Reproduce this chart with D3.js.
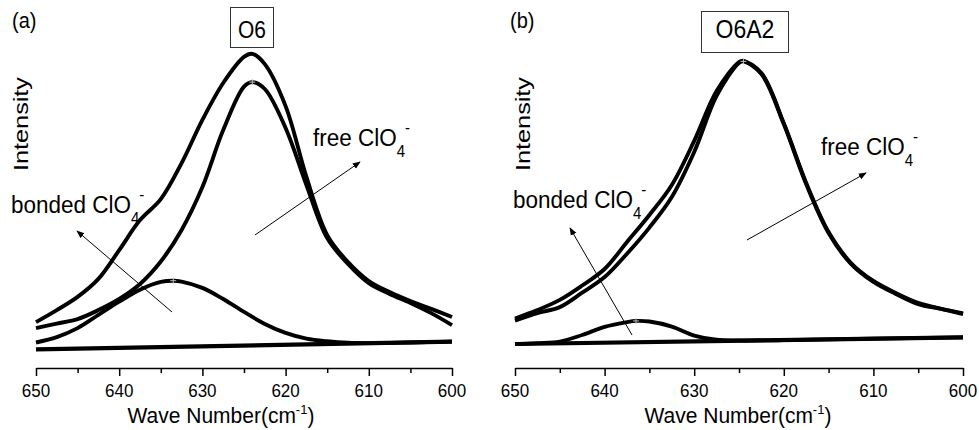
<!DOCTYPE html>
<html>
<head>
<meta charset="utf-8">
<script src="https://cdn.jsdelivr.net/npm/d3@7"></script>
<style>
  body { margin: 0; background: #fff; }
  text { font-family: Arial, "Liberation Sans", sans-serif; fill: #000; }
</style>
</head>
<body>
<script>
// ---- data (intensity in arbitrary units) ----
// panel (a) O6
var wavesA = [650, 647.5, 645, 642.5, 640, 637.5, 635, 632.5, 630, 627.5, 625, 624, 622.5, 620, 617.5, 615, 612.5, 610, 607.5, 605, 602.5, 600];
var envA = [9.3, 13.3, 17.7, 23.7, 33.3, 43.3, 50.3, 62.3, 76.7, 89.0, 97.7, 98.7, 95.3, 81.3, 57.7, 38.3, 29.3, 23.0, 19.3, 16.3, 13.7, 11.0];
var freeA = [7.3, 8.8, 10.3, 13.3, 17.0, 22.0, 29.5, 40.0, 54.3, 73.3, 87.8, 89.3, 87.0, 74.0, 55.0, 37.3, 28.7, 22.3, 18.7, 15.7, 12.3, 8.3];
var bondWavesA = [650, 647.5, 645, 642.5, 640, 637.5, 635, 633.5, 632.5, 630, 627.5, 625, 622.5, 620, 617.5, 615, 612.5, 610, 605, 600];
var bondA = [2.5, 4.3, 7.3, 11.7, 16.1, 20.1, 22.7, 23.1, 22.8, 20.7, 17.0, 12.7, 8.7, 5.7, 3.8, 2.9, 2.4, 2.3, 2.5, 2.8];
var baseWaves = [650, 600];
var baseA = [0.2, 2.8];

// panel (b) O6A2
var wavesB = [650, 647.5, 645, 642.5, 640, 637.5, 635, 632.5, 630, 627.5, 625, 624.5, 622.5, 620, 617.5, 615, 612.5, 610, 607.5, 605, 602.5, 600];
var envB = [10.5, 13.3, 16.7, 21.5, 27.0, 36.0, 45.0, 55.0, 69.7, 86.3, 96.0, 96.4, 92.3, 75.6, 55.7, 39.3, 29.0, 23.0, 19.0, 15.7, 13.8, 12.2];
var freeB = [9.8, 12.3, 14.3, 19.1, 24.3, 32.1, 40.8, 51.0, 66.0, 84.7, 95.7, 96.2, 92.0, 75.3, 55.3, 39.0, 28.7, 22.7, 18.7, 15.3, 13.7, 12.0];
var bondWavesB = [650, 647.5, 645, 642.5, 640, 637.5, 636.5, 635, 632.5, 630, 627.5, 625, 620, 610, 600];
var bondB = [2.0, 2.3, 2.8, 5.0, 7.7, 9.3, 9.7, 9.5, 7.8, 4.8, 3.4, 3.2, 3.3, 3.8, 4.2];
var baseB = [2.0, 4.2];

var majorTicks = [650, 640, 630, 620, 610, 600];
var minorTicks = [645, 635, 625, 615, 605];

var W = 979, H = 430;
// the original figure is slightly stretched vertically
var SY = 1.1;

var svg = d3.select('body').append('svg')
  .attr('width', W)
  .attr('height', H);

svg.append('defs').append('marker')
  .attr('id', 'arrow')
  .attr('viewBox', '0 0 10 10')
  .attr('refX', 9)
  .attr('refY', 5)
  .attr('markerWidth', 8)
  .attr('markerHeight', 8)
  .attr('markerUnits', 'userSpaceOnUse')
  .attr('orient', 'auto')
  .append('path')
  .attr('d', 'M0,1L10,5L0,9Z')
  .attr('fill', '#000');

var y = d3.scaleLinear().domain([0, 100]).range([350, 50]);

function zip(ws, vs) {
  return ws.map(function (w, i) { return [w, vs[i]]; });
}

function label(g, x, yy, size, str, anchor, sy) {
  return g.append('text')
    .attr('transform', 'translate(' + x + ',' + yy + ') scale(1,' + (sy || SY) + ')')
    .attr('text-anchor', anchor || 'start')
    .attr('font-size', size)
    .text(str);
}

function drawPanel(p) {
  var x = d3.scaleLinear().domain([650, 600]).range(p.range);
  var line = d3.line()
    .x(function (d) { return x(d[0]); })
    .y(function (d) { return y(d[1]); })
    .curve(d3.curveCatmullRom.alpha(0.5));
  var g = svg.append('g');

  // minor ticks then labelled axis
  g.append('g')
    .attr('transform', 'translate(0,368)')
    .call(d3.axisBottom(x).tickValues(minorTicks).tickSize(5).tickFormat(''))
    .call(function (a) { a.select('.domain').remove(); })
    .selectAll('line').attr('stroke-width', 1.5);
  var ax = g.append('g')
    .attr('transform', 'translate(0,368)')
    .call(d3.axisBottom(x).tickValues(majorTicks).tickSize(8).tickSizeOuter(0).tickFormat(''));
  ax.select('.domain').attr('stroke-width', 1.5);
  ax.selectAll('line').attr('stroke-width', 1.5);
  majorTicks.forEach(function (v) {
    label(g, x(v), 397, 17, d3.format('d')(v), 'middle');
  });

  // curves
  [zip(baseWaves, p.base), zip(p.bondWaves, p.bond), zip(p.waves, p.free), zip(p.waves, p.env)]
    .forEach(function (pts, i) {
      g.append('path')
        .attr('d', line(pts))
        .attr('fill', 'none')
        .attr('stroke', '#000')
        .attr('stroke-width', i == 0 ? 4.2 : 3.9)
        .attr('stroke-linejoin', 'round');
    });

  // small "+" fit markers at the peaks of the fitted bands
  [zip(p.waves, p.free), zip(p.bondWaves, p.bond)].forEach(function (pts) {
    var pk = pts[d3.maxIndex(pts, function (d) { return d[1]; })];
    var cx = x(pk[0]), cy = y(pk[1]);
    g.append('path')
      .attr('d', 'M' + (cx - 3) + ',' + cy + 'H' + (cx + 3) + 'M' + cx + ',' + (cy - 3) + 'V' + (cy + 3))
      .attr('stroke', '#bbb')
      .attr('stroke-width', 1);
  });

  // axis titles (kept just inside the bottom edge)
  var t = label(g, p.titleX, 423, 21, 'Wave Number(cm', 'middle', 1.05);
  t.append('tspan').attr('font-size', 13).attr('dy', -9).text('-1');
  t.append('tspan').attr('dy', 9).text(')');

  g.append('text')
    .attr('transform', 'translate(' + p.intX + ',124) rotate(-90) scale(1.2,1)')
    .attr('text-anchor', 'middle')
    .attr('font-size', 21)
    .text('Intensity');

  // panel letter
  label(g, p.letterX, 28, 20, p.letter);

  // sample name box
  g.append('rect')
    .attr('x', p.box[0]).attr('y', p.box[1])
    .attr('width', p.box[2]).attr('height', p.box[3])
    .attr('fill', 'none')
    .attr('stroke', '#333')
    .attr('stroke-width', 1);
  label(g, p.box[0] + p.box[2] / 2, 38, p.nameSize, p.name, 'middle');

  // band labels and arrows
  p.labels.forEach(function (l) {
    var lt = label(g, l.x, l.y, 22.5, l.text);
    lt.append('tspan').attr('font-size', 15).attr('dy', 10).text('4');
    lt.append('tspan').attr('font-size', 15).attr('dy', -22).text('-');
    g.append('line')
      .attr('x1', l.arrow[0]).attr('y1', l.arrow[1])
      .attr('x2', l.arrow[2]).attr('y2', l.arrow[3])
      .attr('stroke', '#000')
      .attr('stroke-width', 1)
      .attr('marker-end', 'url(#arrow)');
  });
}

drawPanel({
  range: [36, 452],
  waves: wavesA, env: envA, free: freeA,
  bondWaves: bondWavesA, bond: bondA, base: baseA,
  titleX: 221, intX: 28, letter: '(a)', letterX: 12,
  box: [230.5, 7.5, 43, 40], name: 'O6', nameSize: 21,
  labels: [
    { text: 'free ClO', x: 313, y: 146, arrow: [255, 235, 360, 162] },
    { text: 'bonded ClO', x: 11, y: 213, arrow: [172, 312, 77, 231] }
  ]
});

drawPanel({
  range: [515, 963],
  waves: wavesB, env: envB, free: freeB,
  bondWaves: bondWavesB, bond: bondB, base: baseB,
  titleX: 738, intX: 530, letter: '(b)', letterX: 510,
  box: [701.5, 11.5, 87, 41], name: 'O6A2', nameSize: 23,
  labels: [
    { text: 'free ClO', x: 821, y: 155, arrow: [747, 240, 866, 173] },
    { text: 'bonded ClO', x: 513, y: 208, arrow: [632, 335, 570, 228] }
  ]
});
</script>
</body>
</html>
